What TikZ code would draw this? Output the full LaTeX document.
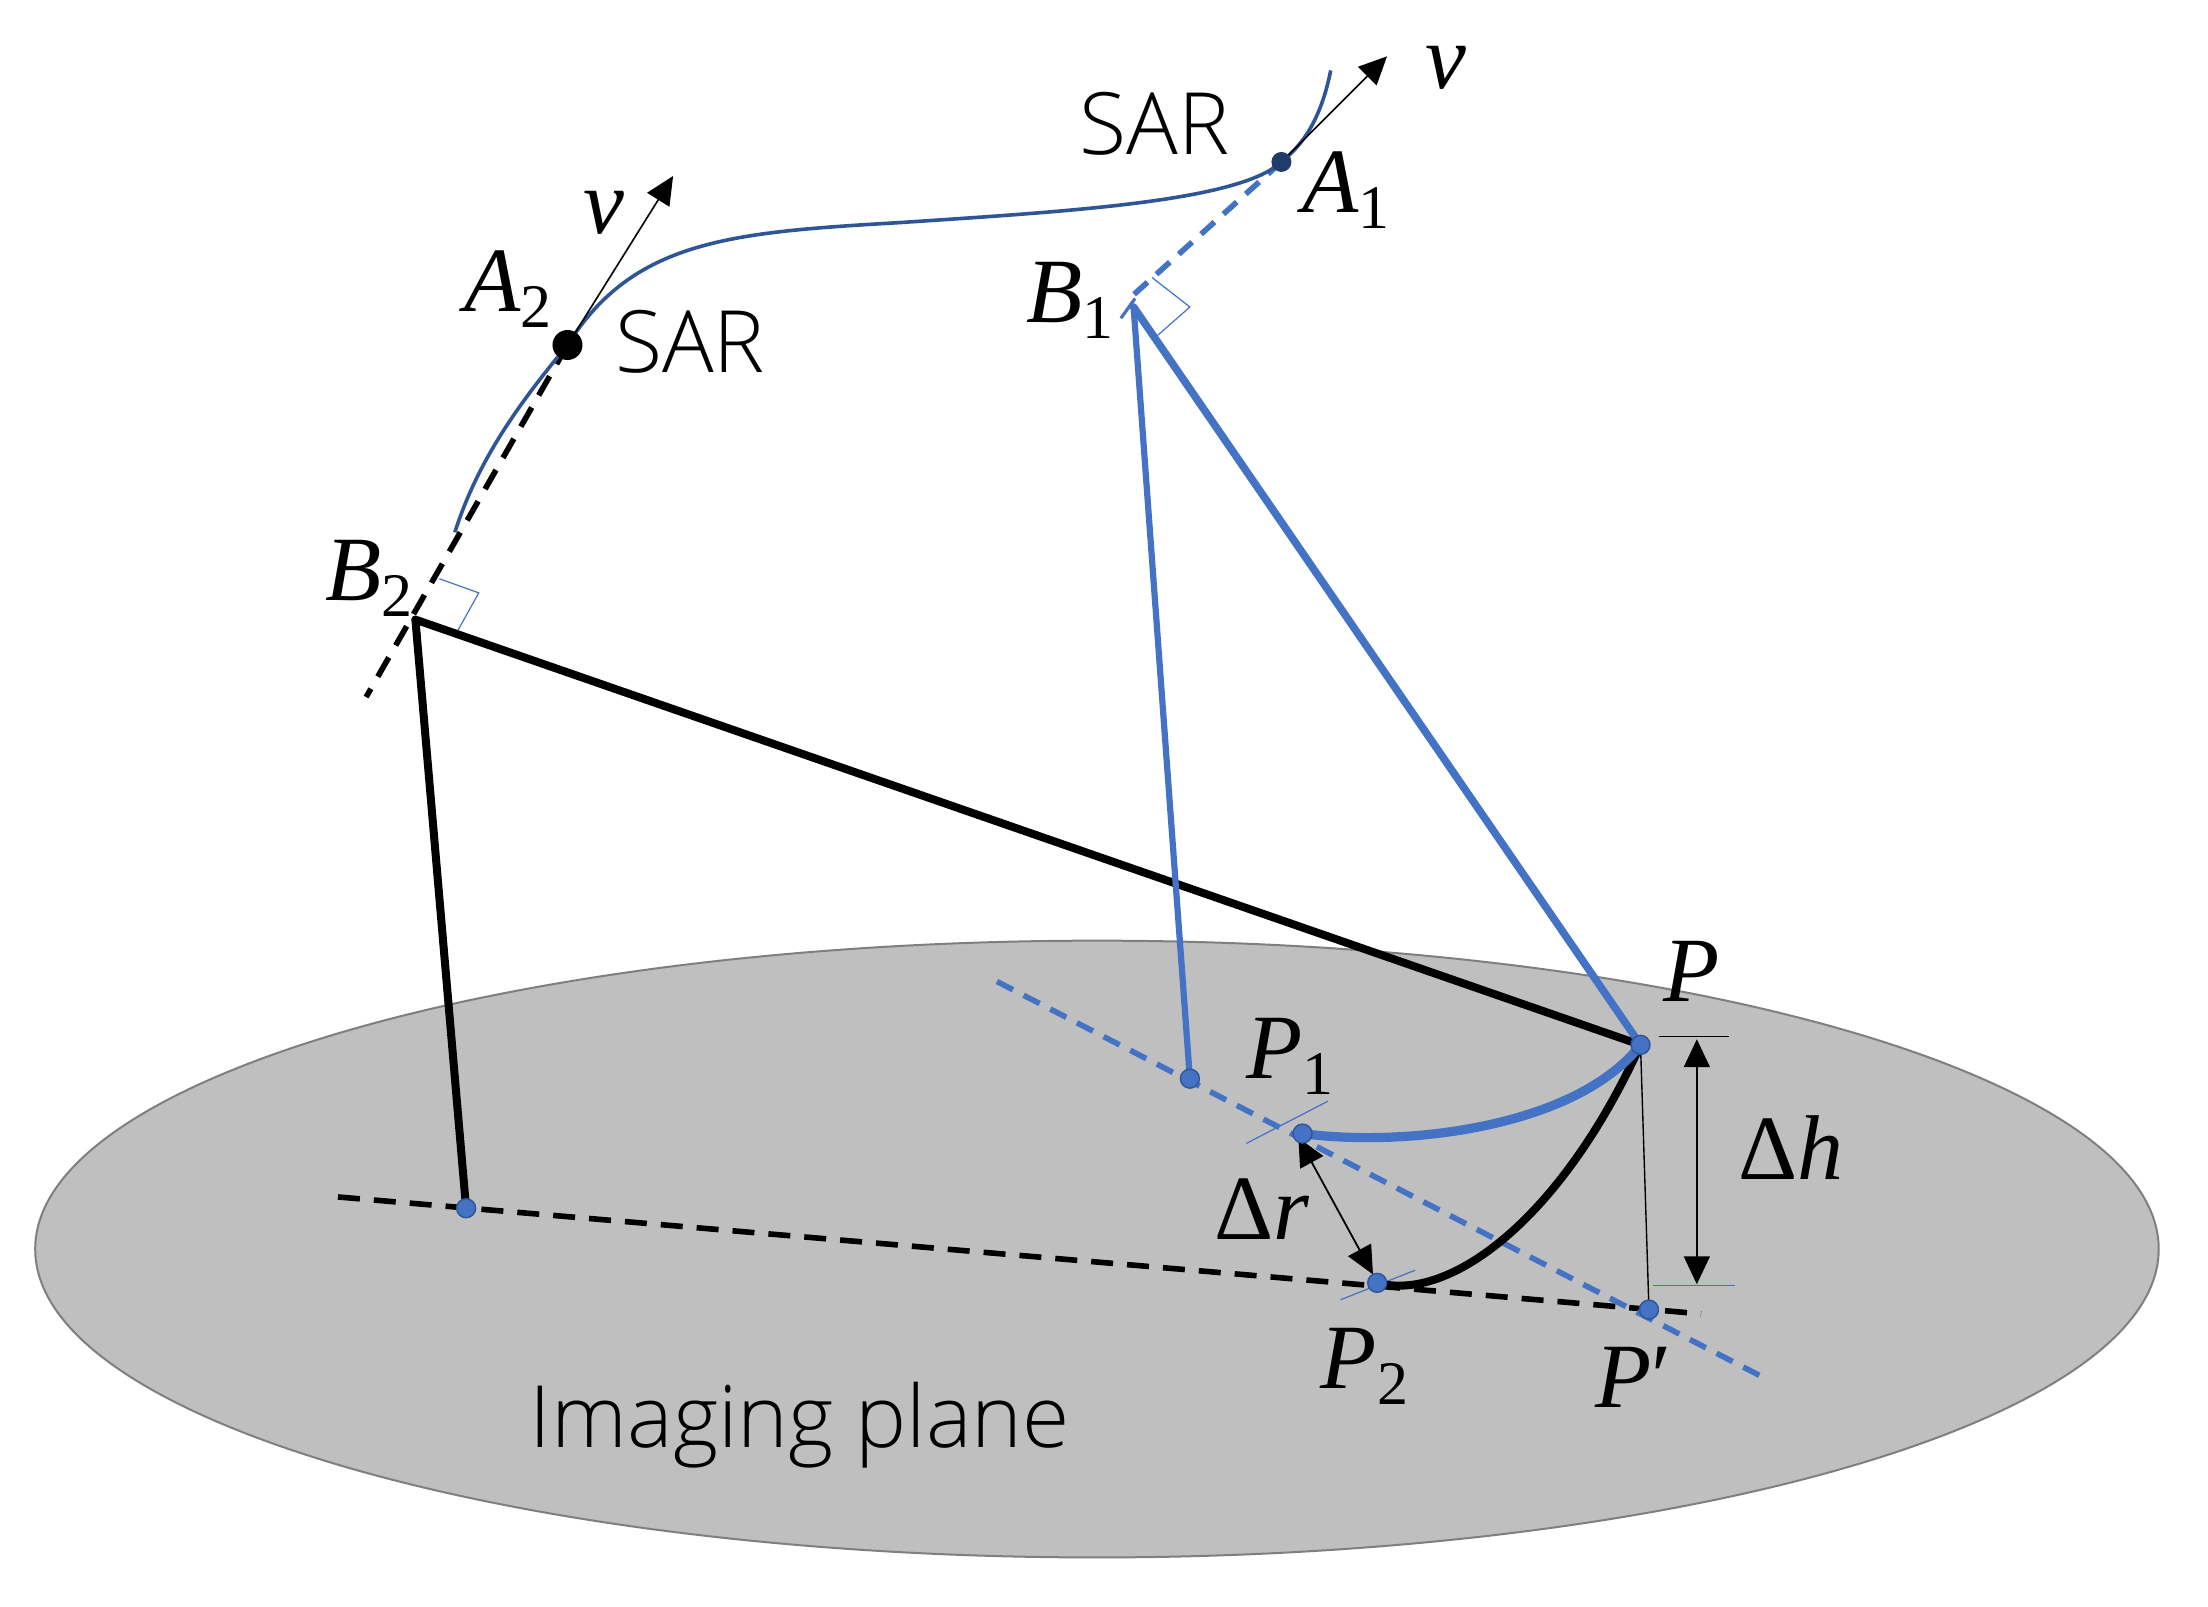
\documentclass[tikz,border=0pt]{standalone}
\usepackage{fontspec}
\setmainfont{Open Sans Light}
\newfontfamily\mf{Liberation Serif}
\usetikzlibrary{arrows.meta}
\definecolor{bl}{HTML}{4472C4}
\definecolor{dbl}{HTML}{2F5597}
\definecolor{gy}{HTML}{BFBFBF}
\definecolor{edge}{HTML}{7F7F7F}
\newcommand{\vr}[1]{{\itshape #1}}
\newcommand{\sbs}[1]{\raisebox{-8pt}{\fontsize{31}{31}\selectfont #1}}
\tikzset{
  blk/.style={line width=4pt,black,line cap=round},
  blu/.style={line width=3.8pt,bl,line cap=round},
  bluthin/.style={line width=3.1pt,bl,line cap=round},
  blk dash/.style={line width=2.8pt,black,dash pattern=on 11pt off 7pt},
  blu dash/.style={line width=2.8pt,bl,dash pattern=on 9pt off 6pt},
  thinb/.style={line width=.6pt,bl},
  dot/.style={circle,fill=bl,draw=dbl,line width=.7pt,inner sep=0pt,minimum size=9.5pt},
  lab/.style={inner sep=0pt,font=\mf\fontsize{46}{46}\selectfont},
  txt/.style={inner sep=0pt,font=\fontsize{43}{43}\selectfont},
  tip/.tip={Triangle[length=14pt,width=13pt]},
  big/.style={-tip,line width=.8pt,black},
  dim/.style={tip-tip,line width=.9pt,black},
}
\begin{document}
\begin{tikzpicture}[x=0.7041pt,y=-0.7041pt]
\useasboundingbox (0,0) rectangle (1568,1140.5);
\fill[white] (0,0) rectangle (1568,1140.5);
% plane
\path[fill=gy,draw=edge,line width=1pt] (779,887) ellipse [x radius=754,y radius=219];
% points
\coordinate (A1) at (910,115);
\coordinate (A2) at (403,245);
\coordinate (B1) at (805,218);
\coordinate (B1d) at (802,212);
\coordinate (B2) at (295,440);
\coordinate (P) at (1165,742);
\coordinate (P1a) at (845,766);
\coordinate (P1) at (925,805);
\coordinate (P2) at (978,911);
\coordinate (Pp) at (1171,930);
\coordinate (F2) at (331,858);
\coordinate (v1) at (985,40);
\coordinate (v2) at (478,125);
% dashed lines
\draw[blu dash] (A1) -- (B1d);
\draw[blk dash] (A2) -- (260,495);
\draw[blk dash] (240,850) -- (1208,933);
\draw[blu dash] (708,697) -- (1250,977);
% right angles
\draw[thinb] (818,197) -- (845,218) -- (820,240);
\draw[thinb] (312,411) -- (340,421) -- (325,448);
% ticks
\draw[thinb] (885,812) -- (943,782);
\draw[thinb] (952,923) -- (1005,902);
\draw[thinb,line width=.8pt] (1174,913) -- (1232,913);
\draw[black,line width=.7pt] (1178,736) -- (1228,736);
% SAR track
\draw[dbl,line width=1.8pt] (945,50) .. controls (938,85) and (925,103) .. (A1)
  .. controls (880,143) and (760,150) .. (640,158)
  .. controls (520,165) and (450,170) .. (A2)
  .. controls (370,285) and (340,325) .. (323,378);
% velocity
\draw[big] (A1) -- (v1);
\draw[big] (A2) -- (v2);
% main lines
\draw[blk] (B2) -- (P);
\draw[blk] (B2) -- (F2);
\draw[blu] (B1) -- (P);
\draw[bluthin] (B1) -- (P1a);
\draw[bl,line width=1.6pt] (796,226) -- (806,212);
\draw[black,line width=.7pt] (P) -- (Pp);
% curves
\draw[blk] (P2) .. controls (1030,925) and (1109,865) .. (P);
\draw[bl,line width=4.6pt] (P1) .. controls (1000,815) and (1120,800) .. (P);
% dimension arrows
\draw[dim] (922,808) -- (975,905);
\draw[dim] (1205,738) -- (1205,912);
% dots
\node[circle,fill=black,inner sep=0pt,minimum size=15pt] (nA2) at (A2) {};
\node[circle,fill=dbl!70!black,inner sep=0pt,minimum size=10pt] (nA1) at (A1) {};
\node[dot] (nP) at (P) {};
\node[dot] (nP1a) at (P1a) {};
\node[dot] (nP1) at (P1) {};
\node[dot] (nP2) at (P2) {};
\node[dot] (nPp) at (Pp) {};
\node[dot] (nF2) at (F2) {};
% labels
\node[txt] (s1) at (820,88) {SAR};
\node[txt] (s2) at (490,243) {SAR};
\node[txt] (img) at (568,1012) {Imaging plane};
\node[lab] (lA1) at (956,135) {\vr{A}\sbs{1}};
\node[lab] (lA2) at (361,205) {\vr{A}\sbs{2}};
\node[lab] (lB1) at (760,213) {\vr{B}\sbs{1}};
\node[lab] (lB2) at (262,411) {\vr{B}\sbs{2}};
\node[lab] (lv1) at (1027,48) {\vr{v}};
\node[lab] (lv2) at (429,151) {\vr{v}};
\node[lab] (lP) at (1201,690) {\vr{P}};
\node[lab] (lP1) at (916,750) {\vr{P}\sbs{1}};
\node[lab] (lP2) at (969,970) {\vr{P}\sbs{2}};
\node[lab] (lPp) at (1160,978) {\vr{P}′};
\node[lab] (ldr) at (896,859) {Δ\vr{r}};
\node[lab] (ldh) at (1272,815) {Δ\vr{h}};
\end{tikzpicture}
\end{document}
